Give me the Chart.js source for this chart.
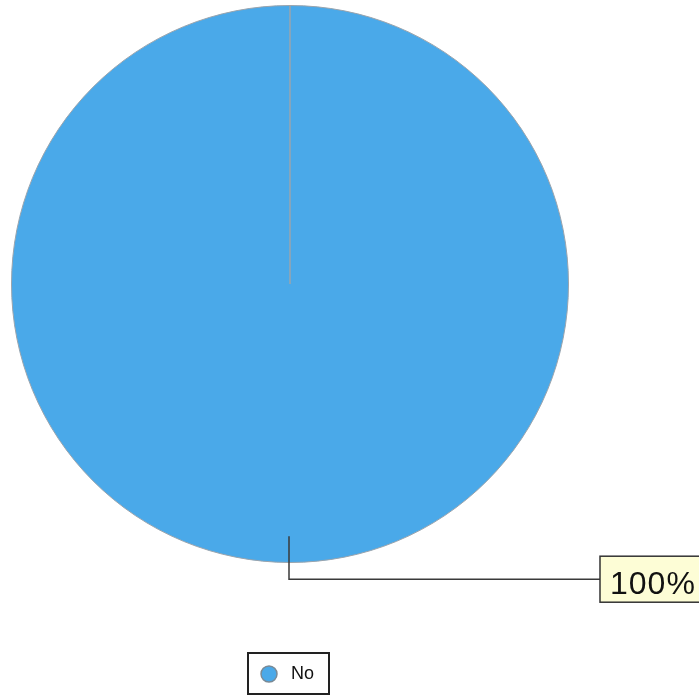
<!DOCTYPE html>
<html>
<head>
<meta charset="utf-8">
<script src="https://cdn.jsdelivr.net/npm/chart.js@4"></script>
<style>
html,body{margin:0;padding:0;background:#fff;}
#wrap{width:699px;height:697px;position:relative;}
</style>
</head>
<body>
<div id="wrap"><canvas id="c" width="699" height="697"></canvas></div>
<script>
const categories = ["No"];
const values = [100];
const sliceColors = ["#4aa9e9"];

const total = values.reduce((a, b) => a + b, 0);

const annotatePlugin = {
  id: 'annotate',
  afterDatasetsDraw(chart) {
    const ctx = chart.ctx;
    const meta = chart.getDatasetMeta(0);
    meta.data.forEach((arc, i) => {
      const p = arc.getProps(['x', 'y', 'outerRadius'], true);
      // leader line
      const sx = p.x - 1, sy = p.y + p.outerRadius * 0.906;
      const ey = p.y + p.outerRadius * 1.06;
      const ex = 600;
      ctx.save();
      ctx.strokeStyle = '#3a3a3a';
      ctx.lineWidth = 1.5;
      ctx.beginPath();
      ctx.moveTo(sx, sy);
      ctx.lineTo(sx, ey);
      ctx.lineTo(ex, ey);
      ctx.stroke();
      // label box
      const txt = Math.round(values[i] / total * 100) + '%';
      ctx.fillStyle = '#fdfdd6';
      ctx.fillRect(ex, ey - 23, 110, 46);
      ctx.strokeStyle = '#333';
      ctx.lineWidth = 1.5;
      ctx.strokeRect(ex, ey - 23, 110, 46);
      ctx.fillStyle = '#111';
      ctx.font = '32px "Liberation Sans", Arial, sans-serif';
      if ('letterSpacing' in ctx) ctx.letterSpacing = '1px';
      ctx.textBaseline = 'alphabetic';
      ctx.textAlign = 'left';
      ctx.fillText(txt, ex + 10, ey + 15);
      ctx.restore();
    });
    // legend
    ctx.save();
    const lx = 248, ly = 653, lw = 81, lh = 41;
    ctx.fillStyle = '#fff';
    ctx.fillRect(lx, ly, lw, lh);
    ctx.strokeStyle = '#222';
    ctx.lineWidth = 2;
    ctx.strokeRect(lx, ly, lw, lh);
    categories.forEach((c, i) => {
      ctx.beginPath();
      ctx.arc(269, 674, 8, 0, Math.PI * 2);
      ctx.fillStyle = sliceColors[i];
      ctx.fill();
      ctx.strokeStyle = '#7a8a96';
      ctx.lineWidth = 1.5;
      ctx.stroke();
      ctx.fillStyle = '#111';
      ctx.font = '18px "Liberation Sans", Arial, sans-serif';
      ctx.textBaseline = 'middle';
      ctx.fillText(c, 291, 674);
    });
    ctx.restore();
  }
};

new Chart(document.getElementById('c'), {
  type: 'pie',
  data: {
    labels: categories,
    datasets: [{
      data: values,
      backgroundColor: sliceColors,
      borderColor: '#9aa4ad',
      borderWidth: 1
    }]
  },
  options: {
    responsive: false,
    animation: false,
    layout: { padding: { left: 11, right: 130, top: 5, bottom: 134 } },
    plugins: {
      legend: { display: false },
      tooltip: { enabled: false }
    }
  },
  plugins: [annotatePlugin]
});
</script>
</body>
</html>
